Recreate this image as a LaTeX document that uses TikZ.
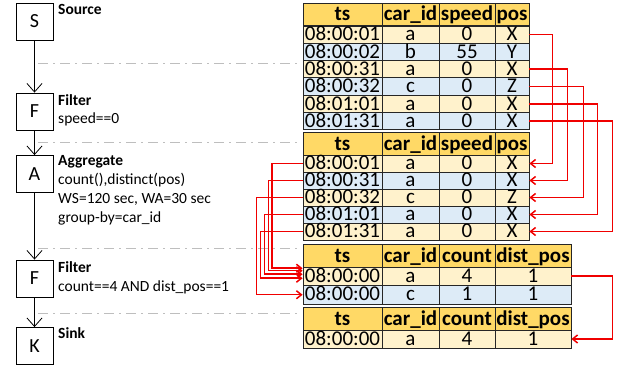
\documentclass[tikz,border=0pt]{standalone}
\usepackage{fontspec}
\setmainfont{Carlito}
\usetikzlibrary{arrows.meta,calc}

\definecolor{hdgold}{RGB}{255,217,102}
\definecolor{rowcream}{RGB}{255,242,204}
\definecolor{rowblue}{RGB}{221,235,247}
\definecolor{linkred}{RGB}{240,0,0}
\definecolor{sepgray}{RGB}{190,190,190}

\begin{document}
\begin{tikzpicture}[x=1pt,y=-1pt]
    \tikzstyle{op box}=[
        draw = black,
        line width = 0.8pt,
        fill = white,
        minimum size = 37pt,
        inner sep = 0pt,
        font = \fontsize{20}{20}\selectfont
    ]
    \tikzstyle{op title}=[anchor=base west, inner sep=0pt, font=\fontsize{15.5}{19}\selectfont\bfseries]
    \tikzstyle{op note}=[anchor=base west, inner sep=0pt, align=left, font=\fontsize{15.5}{19}\selectfont]
    \tikzstyle{cell}=[
        draw = black!85,
        line width = 0.8pt,
        inner sep = 0pt,
        text height = 12.5pt,
        text depth = 0pt,
        font = \fontsize{21}{21}\selectfont
    ]
    \tikzstyle{head cell}=[cell, fill=hdgold, minimum height=22.5pt, font=\fontsize{21}{21}\selectfont\bfseries]
    \tikzstyle{flow}=[-{Straight Barb[length=8.5pt,width=15pt]}, line width=0.8pt]
    \tikzstyle{link}=[-{Straight Barb[length=5pt,width=8pt]}, color=linkred, line width=1.5pt]
    \tikzstyle{sep line}=[draw=sepgray, line width=0.8pt, dash pattern=on 10pt off 5pt on 2pt off 5pt]

    \useasboundingbox (0,0) rectangle (622,371);

    % operators
    \node[op box] (s)  at (34.5, 21.5)  {S};
    \node[op box] (f1) at (34.5, 111.5) {F};
    \node[op box] (a)  at (34.5, 174)   {A};
    \node[op box] (f2) at (34.5, 278.5) {F};
    \node[op box] (k)  at (34.5, 346)   {K};

    \draw[flow] (s) -- (f1);
    \draw[flow] (f1) -- (a);
    \draw[flow] (a) -- (f2);
    \draw[flow] (f2) -- (k);

    \node[op title] (s lbl)  at (58, 15)  {Source};
    \node[op title] (f1 lbl) at (58, 106) {Filter};
    \node[op note]  (f1 txt) at (58, 124) {speed==0};
    \node[op title] (a lbl)  at (58, 166) {Aggregate};
    % base of a multi-line note is its last line
    \node[op note]  (a txt)  at (58, 223) {count(),distinct(pos)\\WS=120 sec, WA=30 sec\\group-by=car\_id};
    \node[op title] (f2 lbl) at (58, 273) {Filter};
    \node[op note]  (f2 txt) at (58, 292) {count==4 AND dist\_pos==1};
    \node[op title] (k lbl)  at (58, 339) {Sink};

    % separators
    \foreach \y in {63, 142, 248, 313}
        \draw[sep line] (38,\y) -- (298,\y);

    % table 1: source stream
    \foreach \x/\w/\t [count=\j] in {342.5/79pt/ts, 410.5/57pt/car\_id, 467/56pt/speed, 512/34pt/pos}
        \node[head cell, minimum width=\w] (t1-0-\j) at (\x, 14.5) {\t};
    \foreach \f/\ts/\id/\sp/\ps [count=\i] in {rowcream/08:00:01/a/0/X, rowblue/08:00:02/b/55/Y,
            rowcream/08:00:31/a/0/X, rowblue/08:00:32/c/0/Z, rowcream/08:01:01/a/0/X, rowblue/08:01:31/a/0/X}{
        \pgfmathsetmacro\yy{26+17.3*(\i-0.5)}
        \node[cell, fill=\f, minimum height=17.3pt, minimum width=79pt] (t1-\i-1) at (342.5, \yy) {\ts};
        \node[cell, fill=\f, minimum height=17.3pt, minimum width=57pt] (t1-\i-2) at (410.5, \yy) {\id};
        \node[cell, fill=\f, minimum height=17.3pt, minimum width=56pt] (t1-\i-3) at (467, \yy)   {\sp};
        \node[cell, fill=\f, minimum height=17.3pt, minimum width=34pt] (t1-\i-4) at (512, \yy)   {\ps};
    }

    % table 2: after filter
    \foreach \x/\w/\t [count=\j] in {342.5/79pt/ts, 410.5/57pt/car\_id, 467/56pt/speed, 512/34pt/pos}
        \node[head cell, minimum width=\w] (t2-0-\j) at (\x, 144) {\t};
    \foreach \f/\ts/\id/\sp/\ps [count=\i] in {rowcream/08:00:01/a/0/X, rowblue/08:00:31/a/0/X,
            rowcream/08:00:32/c/0/Z, rowblue/08:01:01/a/0/X, rowcream/08:01:31/a/0/X}{
        \pgfmathsetmacro\yy{155+17*(\i-0.5)}
        \node[cell, fill=\f, minimum height=17pt, minimum width=79pt] (t2-\i-1) at (342.5, \yy) {\ts};
        \node[cell, fill=\f, minimum height=17pt, minimum width=57pt] (t2-\i-2) at (410.5, \yy) {\id};
        \node[cell, fill=\f, minimum height=17pt, minimum width=56pt] (t2-\i-3) at (467, \yy)   {\sp};
        \node[cell, fill=\f, minimum height=17pt, minimum width=34pt] (t2-\i-4) at (512, \yy)   {\ps};
    }

    % table 3: after aggregate
    \foreach \x/\w/\t [count=\j] in {342.5/79pt/ts, 410.5/57pt/car\_id, 467/56pt/count, 533/76pt/dist\_pos}
        \node[head cell, minimum width=\w] (t3-0-\j) at (\x, 256) {\t};
    \foreach \f/\ts/\id/\cnt/\dpos [count=\i] in {rowcream/08:00:00/a/4/1, rowblue/08:00:00/c/1/1}{
        \pgfmathsetmacro\yy{267+18.5*(\i-0.5)}
        \node[cell, fill=\f, minimum height=18.5pt, minimum width=79pt] (t3-\i-1) at (342.5, \yy) {\ts};
        \node[cell, fill=\f, minimum height=18.5pt, minimum width=57pt] (t3-\i-2) at (410.5, \yy) {\id};
        \node[cell, fill=\f, minimum height=18.5pt, minimum width=56pt] (t3-\i-3) at (467, \yy)   {\cnt};
        \node[cell, fill=\f, minimum height=18.5pt, minimum width=76pt] (t3-\i-4) at (533, \yy)   {\dpos};
    }

    % table 4: sink
    \foreach \x/\w/\t [count=\j] in {342.5/79pt/ts, 410.5/57pt/car\_id, 467/56pt/count, 533/76pt/dist\_pos}
        \node[head cell, minimum width=\w] (t4-0-\j) at (\x, 319) {\t};
    \node[cell, fill=rowcream, minimum height=18pt, minimum width=79pt] (t4-1-1) at (342.5, 339) {08:00:00};
    \node[cell, fill=rowcream, minimum height=18pt, minimum width=57pt] (t4-1-2) at (410.5, 339) {a};
    \node[cell, fill=rowcream, minimum height=18pt, minimum width=56pt] (t4-1-3) at (467, 339)   {4};
    \node[cell, fill=rowcream, minimum height=18pt, minimum width=76pt] (t4-1-4) at (533, 339)   {1};

    % filter links
    \draw[link] (t1-1-4.east) -- ++(23,0) |- (t2-1-4.east);
    \draw[link] (t1-3-4.east) -- ++(38,0) |- (t2-2-4.east);
    \draw[link] (t1-4-4.east) -- ++(54,0) |- (t2-3-4.east);
    \draw[link] (t1-5-4.east) -- ++(68,0) |- (t2-4-4.east);
    \draw[link] (t1-6-4.east) -- ++(83,0) |- (t2-5-4.east);

    % aggregate links
    \draw[link] (t2-1-1.west) -- ++(-30.5,0) |- ($(t3-1-1.west)+(0,-8)$);
    \draw[link] (t2-2-1.west) -- ++(-34,0)   |- ($(t3-1-1.west)+(0,-5.5)$);
    \draw[link] (t2-4-1.west) -- ++(-38,0)   |- ($(t3-1-1.west)+(0,-2)$);
    \draw[link] (t2-5-1.west) -- ++(-42,0)   |- ($(t3-1-1.west)+(0,2)$);
    \draw[link] (t2-3-1.west) -- ++(-46,0)   |- (t3-2-1.west);

    % sink link
    \draw[link] (t3-1-4.east) -- ++(41,0) |- (t4-1-4.east);

\end{tikzpicture}
\end{document}
